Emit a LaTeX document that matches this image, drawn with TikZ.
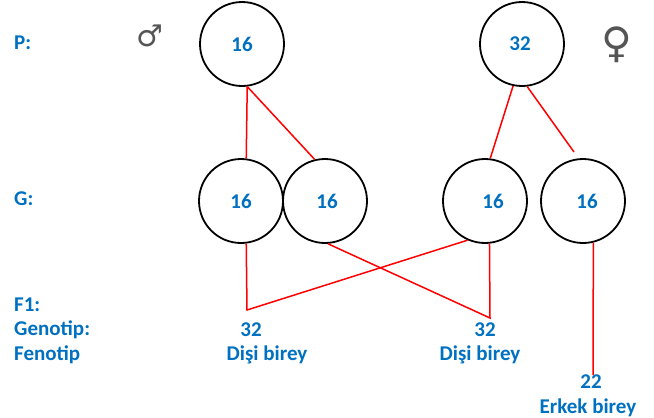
\documentclass[tikz,border=0pt]{standalone}
\usepackage{fontspec}
\setmainfont{Carlito}
\newfontfamily\symfont{DejaVu Sans}
\definecolor{txtblue}{HTML}{0070C0}
\definecolor{symgray}{HTML}{555555}
\begin{document}
\begin{tikzpicture}[x=1pt,y=-1pt,
  cell/.style={circle,draw=black,line width=1.8pt,minimum size=84pt,inner sep=0pt,
    font=\fontsize{21}{25}\selectfont\bfseries,text=txtblue},
  lbl/.style={anchor=west,font=\fontsize{21}{25}\selectfont\bfseries,text=txtblue,inner sep=0pt},
  res/.style={font=\fontsize{21}{25}\selectfont\bfseries,text=txtblue,inner sep=0pt},
  sym/.style={font=\symfont\fontsize{30}{30}\selectfont,text=symgray,inner sep=0pt},
  link/.style={draw=red,line width=1.5pt}]
\useasboundingbox (0,0) rectangle (654,418);

% row labels
\node[lbl] (lp) at (14,43) {P:};
\node[lbl] (lg) at (14,199) {G:};
\node[lbl] (lf) at (14,305) {F1:};
\node[lbl] (lgen) at (14,330) {Genotip:};
\node[lbl] (lfen) at (14,355) {Fenotip};

% sex symbols
\node[sym] (male) at (150,36) {♂};
\node[sym,font=\symfont\fontsize{42}{42}\selectfont] (female) at (617,45) {♀};

% parents
\node[cell] (pm) at (242,44) {16};
\node[cell] (pf) at (522,44) {\hspace{-4pt}32};

% gametes
\node[cell] (g1) at (241,201) {16};
\node[cell] (g2) at (325,201) {\hspace{4pt}16};
\node[cell] (g3) at (485,201) {\hspace{16pt}16};
\node[cell] (g4) at (583,201) {\hspace{8pt}16};

% offspring
\node[res] (f1a) at (251,330) {32};
\node[res] (f1b) at (267,355) {Dişi birey};
\node[res] (f2a) at (485,330) {32};
\node[res] (f2b) at (480,355) {Dişi birey};
\node[res] (f3a) at (591,382) {22};
\node[res] (f3b) at (588,408) {Erkek birey};

% free ends of connectors
\coordinate (c1) at (247,310);
\coordinate (c2) at (490,318);
\coordinate (c3) at (574,152);
\coordinate (c4) at (593,375);

% parent to gamete lines
\draw[link] (pm.-83) -- (g1.83);
\draw[link] (pm.-83) -- (g2.104);
\draw[link] (pf.-102) -- (g3.83);
\draw[link] (pf.-83) -- (c3);

% gamete crossing lines
\draw[link] (g1.-83) -- (c1) -- (g3.-114);
\draw[link] (g2.-86) -- (c2) -- (g3.-84);
\draw[link] (g4.-76) -- (c4);
\end{tikzpicture}
\end{document}
